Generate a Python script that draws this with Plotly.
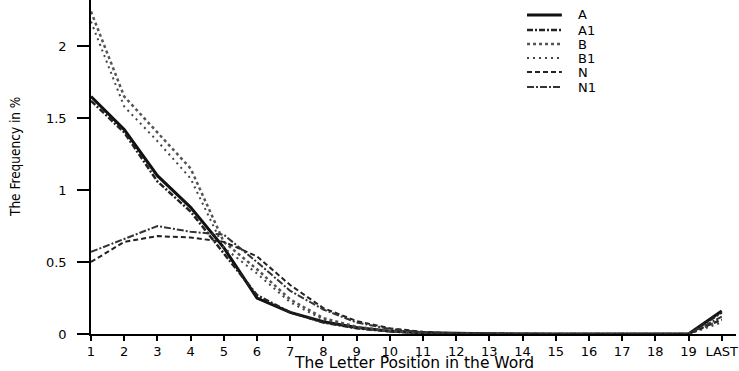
import plotly.graph_objects as go

positions = list(range(1, 21))
tick_labels = [str(i) for i in range(1, 20)] + ["LAST"]

A  = [1.65, 1.42, 1.10, 0.88, 0.60, 0.25, 0.15, 0.085, 0.045, 0.020, 0.008, 0.003, 0.001, 0, 0, 0, 0, 0, 0, 0.16]
A1 = [1.62, 1.40, 1.06, 0.85, 0.56, 0.27, 0.15, 0.080, 0.040, 0.018, 0.007, 0.003, 0.001, 0, 0, 0, 0, 0, 0, 0.15]
B  = [2.24, 1.65, 1.40, 1.15, 0.64, 0.45, 0.24, 0.110, 0.050, 0.020, 0.008, 0.003, 0.001, 0, 0, 0, 0, 0, 0, 0.10]
B1 = [2.17, 1.58, 1.34, 1.08, 0.60, 0.42, 0.22, 0.100, 0.045, 0.018, 0.007, 0.003, 0.001, 0, 0, 0, 0, 0, 0, 0.08]
N  = [0.50, 0.64, 0.68, 0.67, 0.64, 0.54, 0.34, 0.180, 0.090, 0.040, 0.015, 0.005, 0.002, 0, 0, 0, 0, 0, 0, 0.10]
N1 = [0.57, 0.66, 0.75, 0.71, 0.69, 0.50, 0.30, 0.170, 0.080, 0.035, 0.012, 0.004, 0.001, 0, 0, 0, 0, 0, 0, 0.12]

series = [
    ("A", A, "solid", 3.0, "#111111"),
    ("A1", A1, "6px,2px,2px,2px", 2.5, "#222222"),
    ("B", B, "dot", 2.5, "#555555"),
    ("B1", B1, "2px,4px", 2.0, "#444444"),
    ("N", N, "5px,3px", 2.0, "#222222"),
    ("N1", N1, "7px,2px,2px,2px", 2.0, "#333333"),
]

PLOT_H = 334.0
legend_rows_px = [15, 30, 44, 58, 72, 87]
FONT = "DejaVu Sans, Verdana, sans-serif"

fig = go.Figure()
shapes = []
annotations = []
for (name, vals, dash, w, col), ry in zip(series, legend_rows_px):
    fig.add_trace(go.Scatter(x=positions, y=vals, mode="lines", name=name, showlegend=False,
                             line=dict(color=col, width=w, dash=dash)))
    py = 1 - ry / PLOT_H
    shapes.append(dict(type="line", xref="paper", yref="paper", x0=0.676, x1=0.730, y0=py, y1=py,
                       line=dict(color=col, width=w, dash=dash)))
    annotations.append(dict(text=name, xref="paper", yref="paper", x=0.752, y=py,
                            xanchor="left", yanchor="middle", showarrow=False,
                            font=dict(size=13, family=FONT)))

annotations.append(dict(text="The Letter Position in the Word", xref="paper", yref="paper",
                        x=0.5, y=0, yanchor="top", xanchor="center", yshift=-18, showarrow=False,
                        font=dict(size=15.5, family=FONT)))
annotations.append(dict(text="The Frequency in %", xref="paper", yref="paper",
                        x=0, xshift=-76, y=1 - 157 / PLOT_H, xanchor="center", yanchor="middle",
                        textangle=-90, showarrow=False,
                        font=dict(size=13.5, family="Liberation Sans Narrow, DejaVu Sans Condensed, Arial Narrow, sans-serif")))

fig.update_layout(
    width=739, height=371,
    margin=dict(l=91, r=3, t=0, b=37),
    paper_bgcolor="white", plot_bgcolor="white",
    font=dict(family=FONT, size=13, color="black"),
    showlegend=False,
    shapes=shapes,
    annotations=annotations,
    xaxis=dict(range=[1, 20.43], tickmode="array", tickvals=positions, ticktext=tick_labels,
               showgrid=False, zeroline=False, showline=True, linecolor="black", linewidth=1.5,
               ticks="outside", ticklen=5, tickcolor="black", tickwidth=1.5,
               ticklabeloverflow="allow",
               tickfont=dict(size=13, family=FONT)),
    yaxis=dict(range=[0, 2.32], tickmode="array", tickvals=[0, 0.5, 1, 1.5, 2],
               ticktext=["0", "0.5", "1", "1.5", "2"],
               showgrid=False, zeroline=False, showline=True, linecolor="black", linewidth=1.5,
               ticks="outside", ticklen=12, tickcolor="black", tickwidth=1.5,
               ticklabelstandoff=8,
               tickfont=dict(size=13, family=FONT)),
)

fig.write_html("out.html")
